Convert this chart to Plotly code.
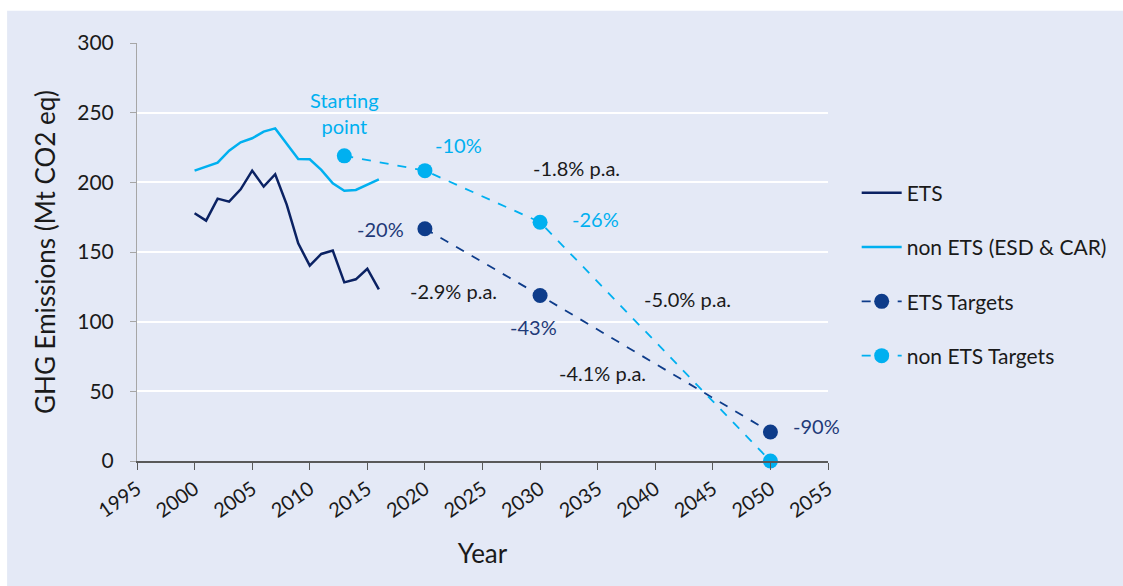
import plotly.graph_objects as go

# Historical emissions (Mt CO2 eq)
YEARS = list(range(2000, 2017))
ETS = [177.8, 172.5, 188.3, 186.1, 195.0, 208.4, 196.9, 205.8, 184.0, 156.2,
       140.2, 148.6, 151.0, 128.2, 130.4, 138.0, 123.2]
NON_ETS = [208.4, 211.2, 214.1, 222.7, 228.7, 231.6, 236.4, 238.7, 227.5, 216.7,
           216.5, 208.9, 199.3, 194.0, 194.5, 198.1, 202.2]

# Targets
ETS_T_YEARS = [2020, 2030, 2050]
ETS_T = [166.7, 118.8, 20.8]
NON_ETS_T_YEARS = [2013, 2020, 2030, 2050]
NON_ETS_T = [219.0, 208.4, 171.4, 0.0]

# Labels: (x, y, text, colour key)
LABELS = [
    (2013, 250, "Starting<br>point", "light"),
    (2022.9, 227, "-10%", "light"),
    (2033.2, 210, "-1.8% p.a.", "black"),
    (2016.1, 166.7, "-20%", "navy"),
    (2034.8, 174, "-26%", "light"),
    (2022.5, 122, "-2.9% p.a.", "black"),
    (2029.4, 96, "-43%", "navy"),
    (2042.8, 116, "-5.0% p.a.", "black"),
    (2035.4, 63, "-4.1% p.a.", "black"),
    (2054.0, 25, "-90%", "navy"),
]

NAVY = "#0B2263"
NAVY_T = "#0E3C8A"
LIGHT = "#00B0F0"
BG = "#E4E9F6"
FONT = "Lato"
TEXT_COL = {"light": LIGHT, "navy": "#1F3A78", "black": "#1A1A1A"}

fig = go.Figure()
fig.add_trace(go.Scatter(x=YEARS, y=ETS, mode="lines", name="ETS", legendgroup="a",
                         line=dict(color=NAVY, width=2.5)))
fig.add_trace(go.Scatter(x=YEARS, y=NON_ETS, mode="lines", name="non ETS (ESD & CAR)",
                         legendgroup="b", line=dict(color=LIGHT, width=2.5)))
fig.add_trace(go.Scatter(x=ETS_T_YEARS, y=ETS_T, mode="lines+markers", name="ETS Targets",
                         legendgroup="c", line=dict(color=NAVY_T, width=1.8, dash="dash"),
                         marker=dict(color=NAVY_T, size=15)))
fig.add_trace(go.Scatter(x=NON_ETS_T_YEARS, y=NON_ETS_T, mode="lines+markers",
                         name="non ETS Targets", legendgroup="d",
                         line=dict(color=LIGHT, width=1.8, dash="dash"),
                         marker=dict(color=LIGHT, size=15), cliponaxis=False))

for x, y, t, c in LABELS:
    fig.add_annotation(x=x, y=y, text=t, showarrow=False,
                       font=dict(family=FONT, size=20, color=TEXT_COL[c]))

# lavender panel with a thin white border at top/left
fig.add_shape(type="rect", xref="paper", yref="paper", x0=-0.188, x1=1.45,
              y0=-0.35, y1=1.077, fillcolor=BG, line=dict(width=0), layer="below")

fig.update_layout(
    width=1123, height=586,
    margin=dict(l=137, r=294, t=43, b=125),
    paper_bgcolor="white", plot_bgcolor=BG,
    font=dict(family=FONT, size=20, color="#1A1A1A"),
    legend=dict(x=1.04, y=0.69, xanchor="left", yanchor="top",
                font=dict(family=FONT, size=21, color="#1A1A1A"),
                bgcolor="rgba(0,0,0,0)", tracegroupgap=24, itemwidth=40),
    showlegend=True,
)
fig.update_xaxes(range=[1995, 2055], dtick=5, tick0=1995, tickangle=-35,
                 showgrid=False, zeroline=False, showline=True, linecolor="#595959",
                 linewidth=1.5, ticks="outside", ticklen=7, tickcolor="#595959",
                 tickfont=dict(size=20, color="#1A1A1A"),
                 title=dict(text="Year", font=dict(size=26), standoff=24))
fig.update_yaxes(range=[0, 300], dtick=50, showgrid=True, gridcolor="white",
                 gridwidth=1.5, zeroline=False, showline=True, linecolor="#A6A6A6",
                 linewidth=1, ticks="outside", ticklen=6, tickcolor="#A6A6A6",
                 ticklabelstandoff=12, tickfont=dict(size=21, color="#1A1A1A"),
                 title=dict(text="GHG Emissions (Mt CO2 eq)", font=dict(size=26),
                            standoff=14))

# drop the browser's default body margin so the figure sits at the page corner
fig.write_html("out.html", config={"displayModeBar": False},
               post_script="document.body.style.margin='0';")
